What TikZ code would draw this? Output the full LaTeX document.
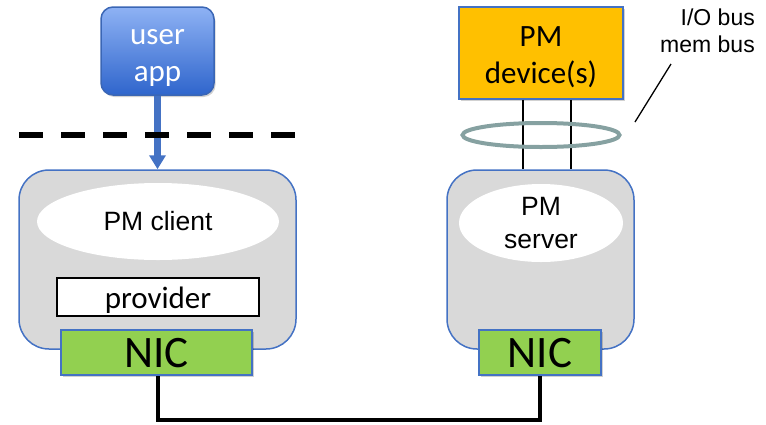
\documentclass[tikz,border=0pt]{standalone}
\usepackage{fontspec}
\setmainfont{Liberation Sans}
\newfontfamily\calibri{Carlito}
\usetikzlibrary{shapes.geometric,shadows,arrows.meta}

\definecolor{frameblue}{HTML}{4472C4}
\definecolor{hostgray}{HTML}{D9D9D9}
\definecolor{nicgreen}{HTML}{92D050}
\definecolor{pmorange}{HTML}{FFC000}
\definecolor{apptop}{HTML}{8EB2F4}
\definecolor{appbottom}{HTML}{2F65CC}
\definecolor{appedge}{HTML}{3A66B5}
\definecolor{ringgray}{HTML}{86A1A1}

\tikzset{
  softshadow/.style={drop shadow={shadow xshift=1.5pt,shadow yshift=-2pt,opacity=0.18,fill=black}},
  hostbox/.style={draw=frameblue,line width=1.5pt,fill=hostgray,rounded corners=30pt,inner sep=0pt},
  nicbox/.style={draw=frameblue,line width=1.5pt,fill=nicgreen,softshadow,inner sep=0pt,
    minimum height=45pt,font=\calibri\fontsize{45pt}{50pt}\selectfont,text height=29pt,text depth=0pt},
  blob/.style={ellipse,fill=white,inner sep=0pt},
  wire/.style={line width=4pt,black},
  buswire/.style={line width=1.5pt,black},
}

\begin{document}
\begin{tikzpicture}[x=1pt,y=-1pt]
\useasboundingbox (0,0) rectangle (766,424);

% host machines
\node[hostbox,minimum width=277pt,minimum height=179pt] (clienthost) at (157.5,259.5) {};
\node[hostbox,minimum width=187pt,minimum height=179pt] (serverhost) at (540.5,259.5) {};

% software inside the hosts
\node[blob,minimum width=242pt,minimum height=77pt,
      font=\fontsize{26.5pt}{33pt}\selectfont,text height=18.6pt,text depth=0pt] (client) at (158,221.5) {PM client};
\node[blob,minimum width=164pt,minimum height=78pt,align=center,
      font=\fontsize{26.5pt}{33pt}\selectfont] (server) at (541,223) {PM\\server};
\node[draw=black,line width=1.2pt,fill=white,inner sep=0pt,minimum width=202pt,minimum height=38pt,
      font=\calibri\fontsize{31pt}{36pt}\selectfont,text height=22pt,text depth=0pt] (provider) at (158,297) {provider};

% network cards and the link between them
\node[nicbox,minimum width=191pt] (nicL) at (156.5,352.5) {NIC};
\node[nicbox,minimum width=122pt] (nicR) at (540,352.5) {NIC};
\draw[wire] ([xshift=1.5pt]nicL.south) -- ++(0,44) -| (nicR.south);

% user application above the kernel line
\node[draw=appedge,line width=1.5pt,rounded corners=12pt,top color=apptop,bottom color=appbottom,
      softshadow,minimum width=113pt,minimum height=88pt] (userapp) at (157.5,51) {};
\node[text=white,align=center,inner sep=0pt,font=\calibri\fontsize{31pt}{37pt}\selectfont] (applabel) at (157.5,57.5) {user\\app};
\draw[frameblue,line width=6.5pt,-{Triangle[width=16pt,length=14pt]}] (userapp.south) -- (clienthost.north);

% user / kernel boundary
\coordinate (kernL) at (19,135);
\coordinate (kernR) at (296,135);
\draw[line width=6pt,dash pattern=on 24pt off 18pt] (kernL) -- (kernR);

% persistent memory device and its bus
\node[draw=frameblue,line width=1.5pt,fill=pmorange,softshadow,minimum width=164pt,minimum height=92pt] (device) at (541,53) {};
\node[align=center,inner sep=0pt,font=\calibri\fontsize{31pt}{37pt}\selectfont] (devlabel) at (541,57) {PM\\device(s)};
\draw[buswire] ([xshift=-18pt]device.south) -- ([xshift=-18pt]device.south |- serverhost.north);
\draw[buswire] ([xshift=30pt]device.south) -- ([xshift=30pt]device.south |- serverhost.north);
\node[ellipse,draw=ringgray,line width=4pt,inner sep=0pt,minimum width=157pt,minimum height=24pt] (busring) at (541,135) {};

% bus annotation
\node[anchor=east,align=right,inner sep=0pt,font=\fontsize{23pt}{27pt}\selectfont] (buslabel) at (755,30.3) {I/O bus\\mem bus};
\coordinate (notelow) at (635,122);
\coordinate (notehigh) at (671,64);
\draw[line width=1.3pt] (notelow) -- (notehigh);
\end{tikzpicture}
\end{document}
